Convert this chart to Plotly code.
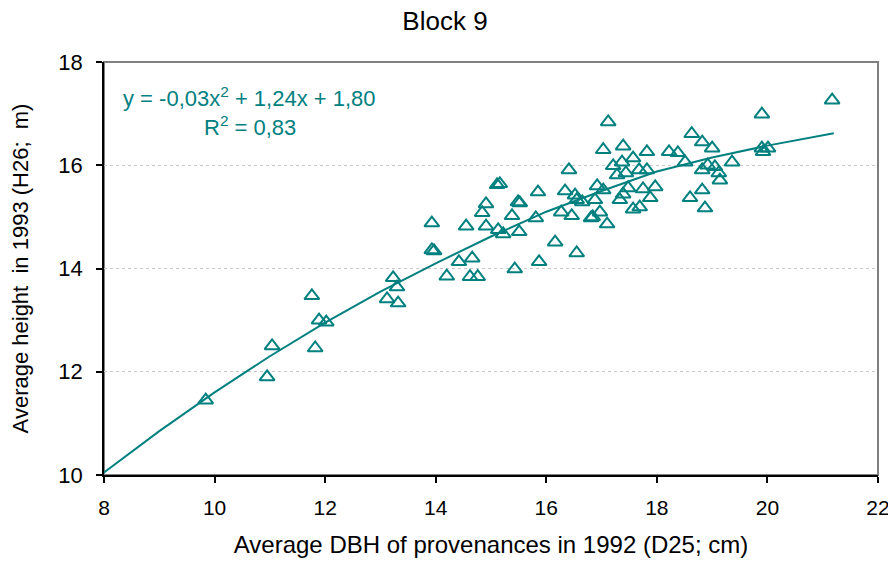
import plotly.graph_objects as go

# Scatter data: provenance means (DBH 1992, height 1993)
dbh = [9.84, 10.95, 11.04, 11.76, 11.82, 11.89, 12.02, 13.12, 13.23, 13.30, 13.32,
       13.93, 13.93, 13.97, 14.20, 14.42, 14.66, 14.62, 14.76, 14.55, 14.84, 14.91,
       14.91, 15.11, 15.16, 15.13, 15.22, 15.38, 15.49, 15.52, 15.51, 15.43, 15.85,
       15.81, 15.87, 16.16, 16.27, 16.34, 16.41, 16.46, 16.52, 16.55, 16.65, 16.55,
       16.84, 16.81, 16.88, 16.92, 16.97, 17.03, 17.03, 17.10, 17.12, 17.21, 17.28,
       17.33, 17.37, 17.39, 17.39, 17.44, 17.48, 17.57, 17.57, 17.69, 17.68, 17.75,
       17.82, 17.82, 17.88, 17.97, 18.22, 18.38, 18.51, 18.60, 18.63, 18.82, 18.82,
       18.82, 18.87, 18.92, 19.00, 19.05, 19.12, 19.14, 19.36, 19.90, 19.90, 19.92,
       20.01, 21.17]
height = [11.45, 11.90, 12.50, 13.47, 12.46, 13.00, 12.96, 13.41, 13.82, 13.64, 13.33,
          14.88, 14.36, 14.34, 13.85, 14.13, 14.20, 13.84, 13.84, 14.82, 15.08, 15.25,
          14.82, 15.62, 15.64, 14.75, 14.67, 15.02, 15.29, 15.27, 14.71, 13.99, 15.48,
          14.98, 14.13, 14.51, 15.09, 15.50, 15.91, 15.02, 15.42, 15.33, 15.29, 14.30,
          15.00, 14.98, 15.33, 15.60, 15.09, 15.52, 16.30, 14.86, 16.84, 15.99, 15.81,
          15.33, 16.06, 15.44, 16.37, 15.85, 15.56, 16.14, 15.15, 15.19, 15.91, 15.54,
          15.91, 16.26, 15.37, 15.58, 16.26, 16.24, 16.06, 15.37, 16.61, 16.45, 15.91,
          15.52, 15.17, 16.00, 16.33, 15.97, 15.85, 15.71, 16.06, 16.99, 16.33, 16.26,
          16.33, 17.26]

# Trend line
trend_x = [8, 9, 10, 11, 12, 13, 14, 15, 16, 17, 18, 19, 20, 21.2]
trend_y = [10.05, 10.85, 11.6, 12.3, 12.95, 13.55, 14.1, 14.62, 15.1, 15.5, 15.88, 16.15, 16.38, 16.62]

x_ticks = [8, 10, 12, 14, 16, 18, 20, 22]
y_ticks = [10, 12, 14, 16, 18]

TEAL = "#00807F"
FONT = "Liberation Sans, Arial, sans-serif"

W, H = 888, 569
L, T, R, B = 104, 62, 10, 94
PW, PH = W - L - R, H - T - B

fig = go.Figure()
fig.add_trace(go.Scatter(x=trend_x, y=trend_y, mode="lines",
                         line=dict(color=TEAL, width=2), hoverinfo="skip",
                         showlegend=False))
fig.add_trace(go.Scatter(x=dbh, y=height, mode="markers",
                         marker=dict(symbol="triangle-up-open", size=13,
                                     color=TEAL, line=dict(color=TEAL, width=2)),
                         showlegend=False))

fig.update_layout(
    width=W, height=H,
    margin=dict(l=L, r=R, t=T, b=B),
    paper_bgcolor="white", plot_bgcolor="white",
    font=dict(family=FONT, size=22, color="black"),
    title=dict(text="Block 9", x=445 / W, xref="container", xanchor="center",
               y=1 - 21 / H, yref="container", yanchor="middle",
               font=dict(family=FONT, size=26, color="black")),
    xaxis=dict(range=[8, 22], tickvals=x_ticks, showgrid=False, zeroline=False,
               showline=True, linecolor="black", linewidth=1.5,
               ticks="outside", ticklen=6, tickcolor="black", tickwidth=1.5,
               ticklabelstandoff=7, automargin=False, ticklabeloverflow="allow",
               title=dict(text="Average DBH of provenances in 1992 (D25; cm)",
                          standoff=18, font=dict(size=24)),
               tickfont=dict(size=21)),
    yaxis=dict(range=[10, 18], tickvals=y_ticks, showgrid=True,
               gridcolor="#c8c8c8", griddash="dot", gridwidth=1, zeroline=False,
               showline=True, linecolor="black", linewidth=1.5,
               ticks="outside", ticklen=6, tickcolor="black", tickwidth=1.5,
               ticklabelstandoff=9, automargin=False, ticklabeloverflow="allow",
               title=dict(text="Average height  in 1993 (H26;  m)", standoff=24,
                          font=dict(size=22)),
               tickfont=dict(size=22)),
    shapes=[dict(type="rect", xref="paper", yref="paper", x0=0, x1=1, y0=0, y1=1,
                 line=dict(color="#808080", width=2), layer="below")],
    annotations=[
        dict(text="y = -0,03x<sup>2</sup> + 1,24x + 1,80", xref="paper", yref="paper",
             x=(249 - L) / PW, y=(475 - 97) / PH, showarrow=False,
             xanchor="center", yanchor="middle", font=dict(color=TEAL, size=22)),
        dict(text="R<sup>2</sup> = 0,83", xref="paper", yref="paper",
             x=(250 - L) / PW, y=(475 - 126) / PH, showarrow=False,
             xanchor="center", yanchor="middle", font=dict(color=TEAL, size=22)),
    ],
)

fig.write_html("out.html", config={"displayModeBar": False},
               post_script="document.body.style.margin='0';document.body.style.overflow='hidden';")
